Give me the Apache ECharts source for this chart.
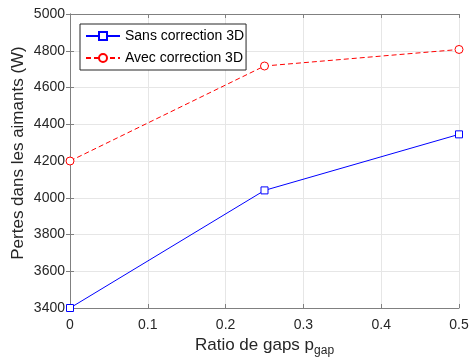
<!DOCTYPE html>
<html><head><meta charset="utf-8">
<script src="https://cdn.jsdelivr.net/npm/echarts@6/dist/echarts.min.js"></script>
<style>html,body{margin:0;padding:0;background:#fff}#c{width:469px;height:362px}</style>
</head><body><div id="c"></div>
<script>
const xValues = [0, 0.25, 0.5];
const sansCorrection = [3400, 4040, 4345];
const avecCorrection = [4200, 4717, 4807];
const xTicks = ['0', '0.1', '0.2', '0.3', '0.4', '0.5'];
const seriesNames = ['Sans correction 3D', 'Avec correction 3D'];
const yTitle = 'Pertes dans les aimants (W)';

const font = 'Helvetica, Arial, "Liberation Sans", sans-serif';
const axisColor = '#808080';
const textColor = '#262626';
const chart = echarts.init(document.getElementById('c'));
const pairs = v => xValues.map((x, i) => [x, v[i]]);
const hiddenAxis = {
  axisLabel: {show: false}, splitLine: {show: false},
  axisLine: {show: true, lineStyle: {color: axisColor}},
  axisTick: {show: true, inside: true, length: 4, lineStyle: {color: axisColor}}
};
chart.setOption({
  animation: false,
  grid: {left: 70, right: 10, top: 14, bottom: 54, outerBoundsMode: 'none', containLabel: false},
  legend: {
    left: 80, top: 24, orient: 'vertical', itemGap: 8, itemWidth: 34, itemHeight: 10,
    padding: [5, 2, 5, 5],
    borderColor: '#262626', borderWidth: 1, backgroundColor: '#fff',
    textStyle: {fontFamily: font, fontSize: 14, color: '#000'},
    data: seriesNames
  },
  graphic: [{
    type: 'text', x: 18, y: 153, rotation: Math.PI / 2,
    style: {text: yTitle, fontFamily: font, fontSize: 17, fill: textColor,
      align: 'center', verticalAlign: 'middle'}
  }],
  xAxis: [{
    type: 'value', min: 0, max: 0.5, interval: 0.1,
    name: '{a|Ratio de gaps p}{b|gap}', nameLocation: 'middle', nameGap: 29,
    nameTextStyle: {rich: {
      a: {fontFamily: font, fontSize: 17, lineHeight: 20, color: textColor, verticalAlign: 'top'},
      b: {fontFamily: font, fontSize: 12, lineHeight: 20, color: textColor, verticalAlign: 'bottom', padding: [6, 0, 0, 0]}
    }},
    axisLabel: {fontFamily: font, fontSize: 14, color: textColor, margin: 10,
      formatter: v => xTicks[Math.round(v * 10)]},
    axisLine: {show: true, onZero: false, lineStyle: {color: axisColor}},
    axisTick: {show: true, inside: true, length: 4, lineStyle: {color: axisColor}},
    splitLine: {show: true, lineStyle: {color: '#e6e6e6'}}
  }, Object.assign({type: 'value', position: 'top', min: 0, max: 0.5, interval: 0.1}, hiddenAxis)],
  yAxis: [{
    type: 'value', min: 3400, max: 5000, interval: 200,
    axisLabel: {fontFamily: font, fontSize: 14, color: textColor, margin: 5,
      formatter: v => String(v)},
    axisLine: {show: true, onZero: false, lineStyle: {color: axisColor}},
    axisTick: {show: true, inside: true, length: 4, lineStyle: {color: axisColor}},
    splitLine: {show: true, lineStyle: {color: '#e6e6e6'}}
  }, Object.assign({type: 'value', position: 'right', min: 3400, max: 5000, interval: 200}, hiddenAxis)],
  series: [{
    name: seriesNames[0], type: 'line', data: pairs(sansCorrection),
    symbol: 'rect', symbolSize: 7, clip: false,
    lineStyle: {color: '#0000ff', width: 1},
    itemStyle: {color: '#fff', borderColor: '#0000ff', borderWidth: 1},
    color: '#0000ff'
  }, {
    name: seriesNames[1], type: 'line', data: pairs(avecCorrection),
    symbol: 'circle', symbolSize: 8, clip: false,
    lineStyle: {color: '#ff0000', width: 1, type: [5, 3]},
    itemStyle: {color: '#fff', borderColor: '#ff0000', borderWidth: 1},
    color: '#ff0000'
  }]
});
</script></body></html>
